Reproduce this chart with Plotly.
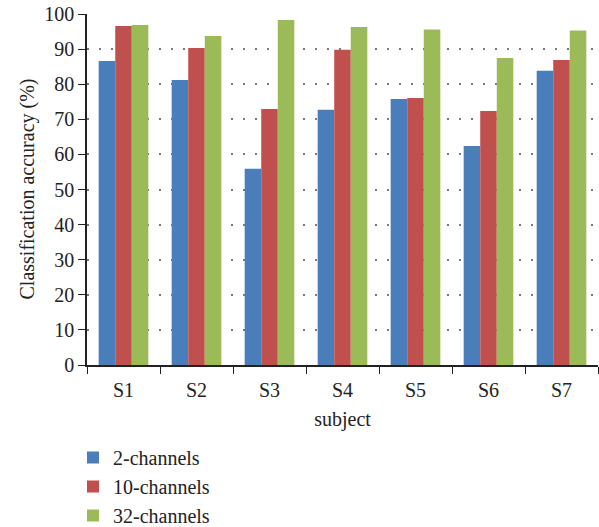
import plotly.graph_objects as go

subjects = ["S1", "S2", "S3", "S4", "S5", "S6", "S7"]
acc_2ch = [86.6, 81.2, 55.9, 72.7, 75.8, 62.4, 83.8]
acc_10ch = [96.6, 90.3, 72.9, 89.8, 76.1, 72.4, 86.9]
acc_32ch = [96.9, 93.7, 98.3, 96.3, 95.6, 87.5, 95.3]
y_ticks = [0, 10, 20, 30, 40, 50, 60, 70, 80, 90, 100]

series = [
    ("2-channels", acc_2ch, "#4A7EBB"),
    ("10-channels", acc_10ch, "#C0504D"),
    ("32-channels", acc_32ch, "#9BBB59"),
]

font_family = "Liberation Serif"
fsize = 20
W, H = 599, 527
ML, MR, MT, MB = 87, 1, 14, 162
plot_w = W - ML - MR
plot_h = H - MT - MB

fig = go.Figure()
for name, vals, color in series:
    fig.add_trace(go.Bar(x=subjects, y=vals, name=name,
                         marker=dict(color=color, line=dict(width=0))))

fig.update_layout(
    width=W, height=H,
    margin=dict(l=ML, r=MR, t=MT, b=MB, autoexpand=False),
    paper_bgcolor="white", plot_bgcolor="white",
    barmode="group", bargap=0.32, bargroupgap=0,
    font=dict(family=font_family, size=fsize, color="#222222"),
    legend=dict(orientation="v", x=(73 - ML) / plot_w, xanchor="left",
                y=-(438 - (MT + plot_h)) / plot_h, yanchor="top",
                font=dict(family=font_family, size=fsize, color="#222222"),
                itemwidth=30, tracegroupgap=6, bgcolor="rgba(0,0,0,0)"),
    showlegend=True,
    annotations=[dict(
        text="Classification accuracy (%)", textangle=-90,
        xref="paper", yref="paper", x=(27 - ML) / plot_w, y=0.5,
        xanchor="center", yanchor="middle", showarrow=False,
        font=dict(family=font_family, size=fsize, color="#222222"),
    )],
)

fig.update_xaxes(
    showline=True, linecolor="#222222", linewidth=1.5,
    ticks="outside", tickson="boundaries", ticklen=7, tickcolor="#222222",
    ticklabelstandoff=6,
    tickfont=dict(family=font_family, size=fsize),
    title=dict(text="subject", font=dict(family=font_family, size=fsize), standoff=12),
    showgrid=False,
)
fig.update_yaxes(
    range=[0, 100], tickvals=y_ticks,
    showline=True, linecolor="#222222", linewidth=1.5,
    ticks="outside", ticklen=7, tickcolor="#222222",
    tickfont=dict(family=font_family, size=fsize),
    showgrid=True, gridcolor="#7a7a7a", gridwidth=1.5, griddash="2px,10px",
    zeroline=False,
)

fig.write_html("out.html")
